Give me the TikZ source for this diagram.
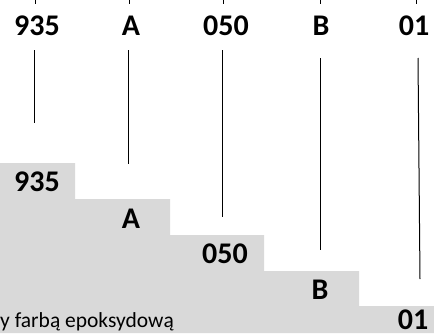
\documentclass[tikz,border=0pt]{standalone}
\usepackage{fontspec}
\setmainfont{Carlito}
\begin{document}
\begin{tikzpicture}[x=1pt,y=1pt,
  lbl/.style={font=\fontsize{30}{32}\selectfont\bfseries, inner sep=0pt},
  ln/.style={line width=1pt, black}]
\useasboundingbox (0,0) rectangle (434,333);
\fill[fill={rgb,255:red,217;green,217;blue,217}]
  (0,0) -- (0,170) -- (75,170) -- (75,134) -- (170,134) -- (170,98)
  -- (264,98) -- (264,62) -- (359,62) -- (359,27) -- (434,27) -- (434,0) -- cycle;
% top labels
\node[lbl] (t1) at (37,307) {935};
\node[lbl] (t2) at (131,307) {A};
\node[lbl] (t3) at (226,307) {050};
\node[lbl] (t4) at (321,307) {B};
\node[lbl] (t5) at (414,307) {01};
% top ticks
\coordinate (k1a) at (35,333); \coordinate (k1b) at (35,329);
\coordinate (k2a) at (129,333); \coordinate (k2b) at (129,329);
\coordinate (k3a) at (223,333); \coordinate (k3b) at (223,329);
\coordinate (k4a) at (320,333); \coordinate (k4b) at (320,329);
\coordinate (k5a) at (416,333); \coordinate (k5b) at (416,329);
\foreach \i in {1,...,5} {\draw[ln] (k\i a) -- (k\i b);}
% leader lines
\coordinate (l1a) at (34,283); \coordinate (l1b) at (34,210);
\coordinate (l2a) at (128,283); \coordinate (l2b) at (128,169);
\coordinate (l3a) at (222,283); \coordinate (l3b) at (222,116);
\coordinate (l4a) at (320,275); \coordinate (l4b) at (320,83);
\coordinate (l5a) at (418,275); \coordinate (l5b) at (420,54);
\foreach \i in {1,...,5} {\draw[ln] (l\i a) -- (l\i b);}
% step labels
\node[lbl] (s1) at (37,151) {935};
\node[lbl] (s2) at (131,114) {A};
\node[lbl] (s3) at (225,79) {050};
\node[lbl] (s4) at (320,43) {B};
\node[lbl] (s5) at (413,13) {01};
% bottom text
\node[anchor=base west, inner sep=0pt, font=\fontsize{21.5}{24}\selectfont] (txt) at (0,6) {y farbą epoksydową};
\end{tikzpicture}
\end{document}
